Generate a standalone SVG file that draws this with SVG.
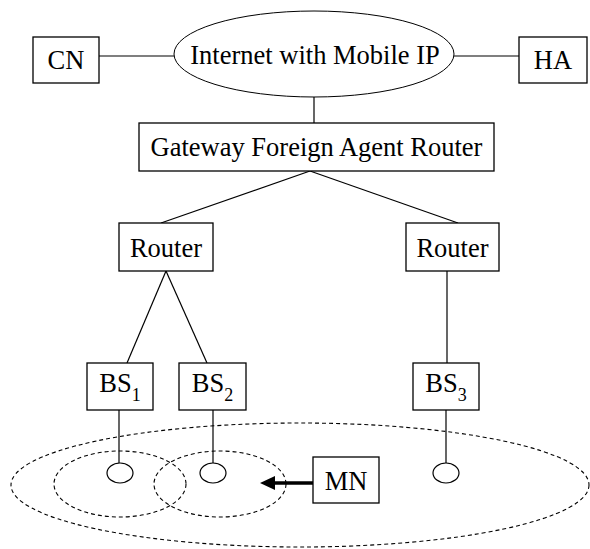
<svg xmlns="http://www.w3.org/2000/svg" width="590" height="549" viewBox="0 0 590 549">
  <defs>
    <style>
      .box { fill: #fff; stroke: #000; stroke-width: 1.3; }
      .lbl { font-family: 'Liberation Serif', 'Times New Roman', Times, 'DejaVu Serif', serif; font-size: 26.5px; fill: #000; text-anchor: middle; }
      .sub { font-size: 18px; }
      .wire { stroke: #000; stroke-width: 1.2; fill: none; }
      .cell { fill: none; stroke: #000; stroke-width: 1.1; stroke-dasharray: 4 3; }
      .ant { fill: #fff; stroke: #000; stroke-width: 1.2; }
    </style>
  </defs>
  <rect width="590" height="549" fill="#fff"/>

  <!-- coverage areas -->
  <g id="coverage">
    <ellipse class="cell" cx="300" cy="485" rx="289" ry="62"/>
    <ellipse class="cell" cx="120" cy="484" rx="66" ry="33"/>
    <ellipse class="cell" cx="220" cy="484" rx="66" ry="33"/>
  </g>

  <!-- connectors -->
  <g id="connectors">
    <line class="wire" x1="99" y1="56" x2="174" y2="56"/>
    <line class="wire" x1="454" y1="56" x2="519" y2="56"/>
    <line class="wire" x1="314" y1="97" x2="314" y2="123"/>
    <line class="wire" x1="310" y1="171" x2="161" y2="223"/>
    <line class="wire" x1="310" y1="171" x2="458" y2="223"/>
    <line class="wire" x1="166" y1="271" x2="127" y2="363"/>
    <line class="wire" x1="166" y1="271" x2="207" y2="363"/>
    <line class="wire" x1="447" y1="271" x2="447" y2="363"/>
    <line class="wire" x1="119" y1="410" x2="119" y2="463"/>
    <line class="wire" x1="213" y1="410" x2="213" y2="463"/>
    <line class="wire" x1="446" y1="410" x2="446" y2="463"/>
    <!-- movement arrow of the mobile node -->
    <line x1="313" y1="483" x2="272" y2="483" stroke="#000" stroke-width="3.5"/>
    <polygon points="260,483 275,476 275,490" fill="#000"/>
  </g>

  <g id="cn">
    <rect class="box" x="33" y="37" width="66" height="46"/>
    <text class="lbl" x="66" y="69">CN</text>
  </g>

  <g id="internet">
    <ellipse cx="314" cy="54" rx="140" ry="43" fill="#fff" stroke="#000" stroke-width="1"/>
    <text class="lbl" x="315" y="64">Internet with Mobile IP</text>
  </g>

  <g id="ha">
    <rect class="box" x="519" y="37" width="68" height="46"/>
    <text class="lbl" x="553" y="69">HA</text>
  </g>

  <g id="gateway">
    <rect class="box" x="139" y="123" width="355" height="48"/>
    <text class="lbl" x="316.5" y="156">Gateway Foreign Agent Router</text>
  </g>

  <g id="router-left">
    <rect class="box" x="119" y="223" width="94" height="48"/>
    <text class="lbl" x="166" y="257">Router</text>
  </g>

  <g id="router-right">
    <rect class="box" x="406" y="223" width="93" height="48"/>
    <text class="lbl" x="452.5" y="257">Router</text>
  </g>

  <g id="bs1">
    <rect class="box" x="87" y="363" width="66" height="47"/>
    <text class="lbl" x="120" y="392">BS<tspan class="sub" dy="9">1</tspan></text>
    <ellipse class="ant" cx="120" cy="473" rx="13" ry="10"/>
  </g>

  <g id="bs2">
    <rect class="box" x="179" y="363" width="67" height="47"/>
    <text class="lbl" x="212.5" y="392">BS<tspan class="sub" dy="9">2</tspan></text>
    <ellipse class="ant" cx="213" cy="473" rx="13" ry="10"/>
  </g>

  <g id="bs3">
    <rect class="box" x="413" y="363" width="66" height="47"/>
    <text class="lbl" x="446" y="392">BS<tspan class="sub" dy="9">3</tspan></text>
    <ellipse class="ant" cx="446" cy="473" rx="13" ry="10"/>
  </g>

  <g id="mn">
    <rect class="box" x="313" y="457" width="66" height="46"/>
    <text class="lbl" x="346" y="490">MN</text>
  </g>
</svg>
